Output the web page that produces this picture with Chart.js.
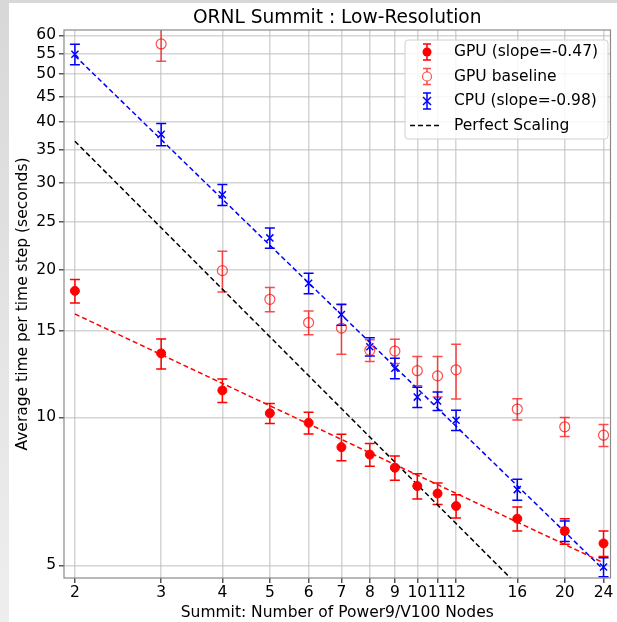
<!DOCTYPE html>
<html>
<head>
<meta charset="utf-8">
<title>ORNL Summit : Low-Resolution</title>
<script src="https://cdn.jsdelivr.net/npm/chart.js@4.4.1/dist/chart.umd.min.js"></script>
<style>
  html, body { margin: 0; padding: 0; }
  body {
    width: 617px; height: 622px; position: relative; overflow: hidden;
    background: linear-gradient(to bottom, #d8d8d8, #eeeeee);
  }
  #sheet { position: absolute; left: 9px; top: 3px; right: 0; bottom: 0; background: #fff; }
  #chart { position: absolute; left: 0; top: 0; }
</style>
</head>
<body>
<div id="sheet"></div>
<canvas id="chart" width="617" height="622"></canvas>
<script>
// nodes on the x axis
const nodes = [2, 3, 4, 5, 6, 7, 8, 9, 10, 11, 12, 16, 20, 24];

// GPU run times and their spread (seconds)
const gpuTime = [18.1, 13.5, 11.35, 10.2, 9.75, 8.7, 8.4, 7.9, 7.25, 7.0, 6.6, 6.22, 5.87, 5.54];
const gpuErr  = [1.0, 0.95, 0.62, 0.48, 0.5, 0.54, 0.45, 0.45, 0.43, 0.35, 0.36, 0.35, 0.35, 0.33];

// GPU baseline (no point at 2 nodes)
const baseTime = [null, 57.6, 19.9, 17.4, 15.6, 15.2, 13.7, 13.65, 12.45, 12.15, 12.5, 10.4, 9.57, 9.2];
const baseErr  = [null, 4.5, 1.9, 0.98, 0.87, 1.75, 0.7, 0.78, 0.85, 1.15, 1.6, 0.52, 0.43, 0.47];

// CPU run times
const cpuTime = [54.9, 37.7, 28.4, 23.2, 18.76, 16.2, 13.93, 12.59, 11.0, 10.8, 9.87, 7.13, 5.87, 4.96];
const cpuErr  = [2.65, 1.95, 1.4, 1.1, 0.9, 0.8, 0.6, 0.6, 0.52, 0.47, 0.47, 0.35, 0.28, 0.22];

// fitted lines (end points)
const gpuFitX = [2, 24];
const gpuFitY = [16.24, 5.06];
const cpuFitX = [2, 24];
const cpuFitY = [54.5, 4.9];
const perfectX = [2, 16];
const perfectY = [36.5, 4.56];

// axis ticks
const xTicks = [2, 3, 4, 5, 6, 7, 8, 9, 10, 11, 12, 16, 20, 24];
const yTicks = [5, 10, 15, 20, 25, 30, 35, 40, 45, 50, 55, 60];

const FONT = "'DejaVu Sans', sans-serif";
const RED = '#ff0000';
const RED_SOFT = 'rgba(255,0,0,0.7)';
const BLUE = '#0000ff';
const GRID = 'rgba(185,185,185,0.6)';

const pts = (xs, ys) => xs.map((x, i) => ({ x: x, y: ys[i] }));

// vertical error bars with caps, drawn under the markers
const errorBars = {
  id: 'errorBars',
  beforeDatasetsDraw(chart) {
    const { ctx, chartArea, scales } = chart;
    ctx.save();
    ctx.beginPath();
    ctx.rect(chartArea.left, chartArea.top, chartArea.width, chartArea.height);
    ctx.clip();
    chart.data.datasets.forEach(ds => {
      if (!ds.errors) return;
      ctx.strokeStyle = ds.borderColor;
      ctx.lineWidth = 1.5;
      ds.data.forEach((p, i) => {
        if (p.y == null) return;
        const e = ds.errors[i];
        const px = scales.x.getPixelForValue(p.x);
        const top = scales.y.getPixelForValue(p.y + e);
        const bot = scales.y.getPixelForValue(p.y - e);
        ctx.beginPath();
        ctx.moveTo(px, top); ctx.lineTo(px, bot);
        ctx.moveTo(px - 5, top); ctx.lineTo(px + 5, top);
        ctx.moveTo(px - 5, bot); ctx.lineTo(px + 5, bot);
        ctx.stroke();
      });
    });
    ctx.restore();
  }
};

// frame around the plot area
const frame = {
  id: 'frame',
  afterDatasetsDraw(chart) {
    const { ctx, chartArea: a } = chart;
    ctx.save();
    ctx.strokeStyle = '#8a8a8a';
    ctx.lineWidth = 1.2;
    ctx.strokeRect(a.left, a.top, a.width, a.height);
    ctx.restore();
  }
};

// legend box in the upper right corner
const legendBox = {
  id: 'legendBox',
  afterDraw(chart) {
    const { ctx } = chart;
    const items = chart.data.datasets.filter(ds => ds.label);
    const x0 = 405, y0 = 40, w = 203, h = 99;
    ctx.save();
    ctx.fillStyle = 'rgba(255,255,255,0.85)';
    ctx.strokeStyle = '#d0d0d0';
    ctx.lineWidth = 1;
    ctx.beginPath();
    ctx.roundRect(x0, y0, w, h, 3);
    ctx.fill();
    ctx.stroke();

    items.forEach((ds, i) => {
      const cy = 52 + i * 24.5;
      const mx = 427;
      if (ds.errors) {
        ctx.strokeStyle = ds.borderColor;
        ctx.lineWidth = 1.5;
        ctx.beginPath();
        ctx.moveTo(mx, cy - 8); ctx.lineTo(mx, cy + 8);
        ctx.moveTo(mx - 4, cy - 8); ctx.lineTo(mx + 4, cy - 8);
        ctx.moveTo(mx - 4, cy + 8); ctx.lineTo(mx + 4, cy + 8);
        ctx.stroke();
        if (ds.pointStyle === 'crossRot') {
          ctx.beginPath();
          ctx.moveTo(mx - 4, cy - 4); ctx.lineTo(mx + 4, cy + 4);
          ctx.moveTo(mx - 4, cy + 4); ctx.lineTo(mx + 4, cy - 4);
          ctx.stroke();
        } else {
          ctx.beginPath();
          ctx.arc(mx, cy, 4.5, 0, Math.PI * 2);
          if (ds.pointBackgroundColor !== 'rgba(0,0,0,0)') {
            ctx.fillStyle = ds.pointBackgroundColor;
            ctx.fill();
          } else {
            ctx.fillStyle = '#fff';
            ctx.fill();
            ctx.lineWidth = 1.2;
            ctx.stroke();
          }
        }
      } else {
        ctx.strokeStyle = ds.borderColor;
        ctx.lineWidth = 1.5;
        ctx.setLineDash(ds.borderDash);
        ctx.beginPath();
        ctx.moveTo(410, cy); ctx.lineTo(440, cy);
        ctx.stroke();
        ctx.setLineDash([]);
      }
      ctx.fillStyle = '#000';
      ctx.font = '15.5px ' + FONT;
      ctx.textBaseline = 'middle';
      ctx.textAlign = 'left';
      ctx.fillText(ds.label, 454, cy);
    });
    ctx.restore();
  }
};

const tickFont = { family: FONT, size: 15.5 };

new Chart(document.getElementById('chart'), {
  type: 'scatter',
  data: {
    datasets: [
      {
        label: 'GPU (slope=-0.47)',
        data: pts(nodes, gpuTime),
        errors: gpuErr,
        borderColor: RED,
        pointBackgroundColor: RED,
        pointBorderColor: RED,
        pointStyle: 'circle',
        pointRadius: 4.5,
        showLine: false
      },
      {
        label: '',
        data: pts(gpuFitX, gpuFitY),
        type: 'line',
        borderColor: RED,
        borderWidth: 1.5,
        borderDash: [5, 3],
        pointRadius: 0,
        fill: false
      },
      {
        label: 'GPU baseline',
        data: pts(nodes, baseTime),
        errors: baseErr,
        borderColor: RED_SOFT,
        pointBackgroundColor: 'rgba(0,0,0,0)',
        pointBorderColor: RED_SOFT,
        pointBorderWidth: 1.2,
        pointStyle: 'circle',
        pointRadius: 5,
        showLine: false
      },
      {
        label: 'CPU (slope=-0.98)',
        data: pts(nodes, cpuTime),
        errors: cpuErr,
        borderColor: BLUE,
        pointBorderColor: BLUE,
        pointBackgroundColor: BLUE,
        pointBorderWidth: 1.5,
        pointStyle: 'crossRot',
        pointRadius: 5,
        showLine: false
      },
      {
        label: '',
        data: pts(cpuFitX, cpuFitY),
        type: 'line',
        borderColor: BLUE,
        borderWidth: 1.5,
        borderDash: [5, 3],
        pointRadius: 0,
        fill: false
      },
      {
        label: 'Perfect Scaling',
        data: pts(perfectX, perfectY),
        type: 'line',
        borderColor: '#000',
        borderWidth: 1.5,
        borderDash: [5, 3],
        pointRadius: 0,
        fill: false
      }
    ]
  },
  options: {
    responsive: false,
    animation: false,
    devicePixelRatio: 1,
    layout: { padding: { left: 0, right: 3, top: 0, bottom: 0 } },
    plugins: {
      legend: { display: false },
      tooltip: { enabled: false },
      title: {
        display: true,
        fullSize: false,
        text: 'ORNL Summit : Low-Resolution',
        color: '#000',
        font: { family: FONT, size: 18.6, weight: 'normal', lineHeight: 1 },
        padding: { top: 8.5, bottom: 2.9 }
      }
    },
    scales: {
      x: {
        type: 'logarithmic',
        min: 1.9,
        max: 24.8,
        afterBuildTicks: s => { s.ticks = xTicks.map(v => ({ value: v })); },
        afterFit: s => { s.height = 44; },
        ticks: {
          autoSkip: false, maxRotation: 0, minRotation: 0,
          font: tickFont, color: '#000', padding: 1,
          callback: v => String(v)
        },
        grid: { color: GRID, lineWidth: 1.5, tickColor: '#555', tickLength: 5 },
        border: { display: false },
        title: {
          display: true,
          text: 'Summit: Number of Power9/V100 Nodes',
          color: '#000',
          font: { family: FONT, size: 15.5 },
          padding: { top: 0, bottom: 0 }
        }
      },
      y: {
        type: 'logarithmic',
        min: 4.71,
        max: 61.5,
        afterBuildTicks: s => { s.ticks = yTicks.map(v => ({ value: v })); },
        afterFit: s => { s.width = 64; },
        ticks: {
          autoSkip: false,
          font: tickFont, color: '#000', padding: 3,
          callback: v => String(v)
        },
        grid: { color: GRID, lineWidth: 1.5, tickColor: '#555', tickLength: 5 },
        border: { display: false },
        title: {
          display: true,
          text: 'Average time per time step (seconds)',
          color: '#000',
          font: { family: FONT, size: 15.5 },
          padding: { top: 14, bottom: 0 }
        }
      }
    }
  },
  plugins: [errorBars, frame, legendBox]
});
</script>
</body>
</html>
